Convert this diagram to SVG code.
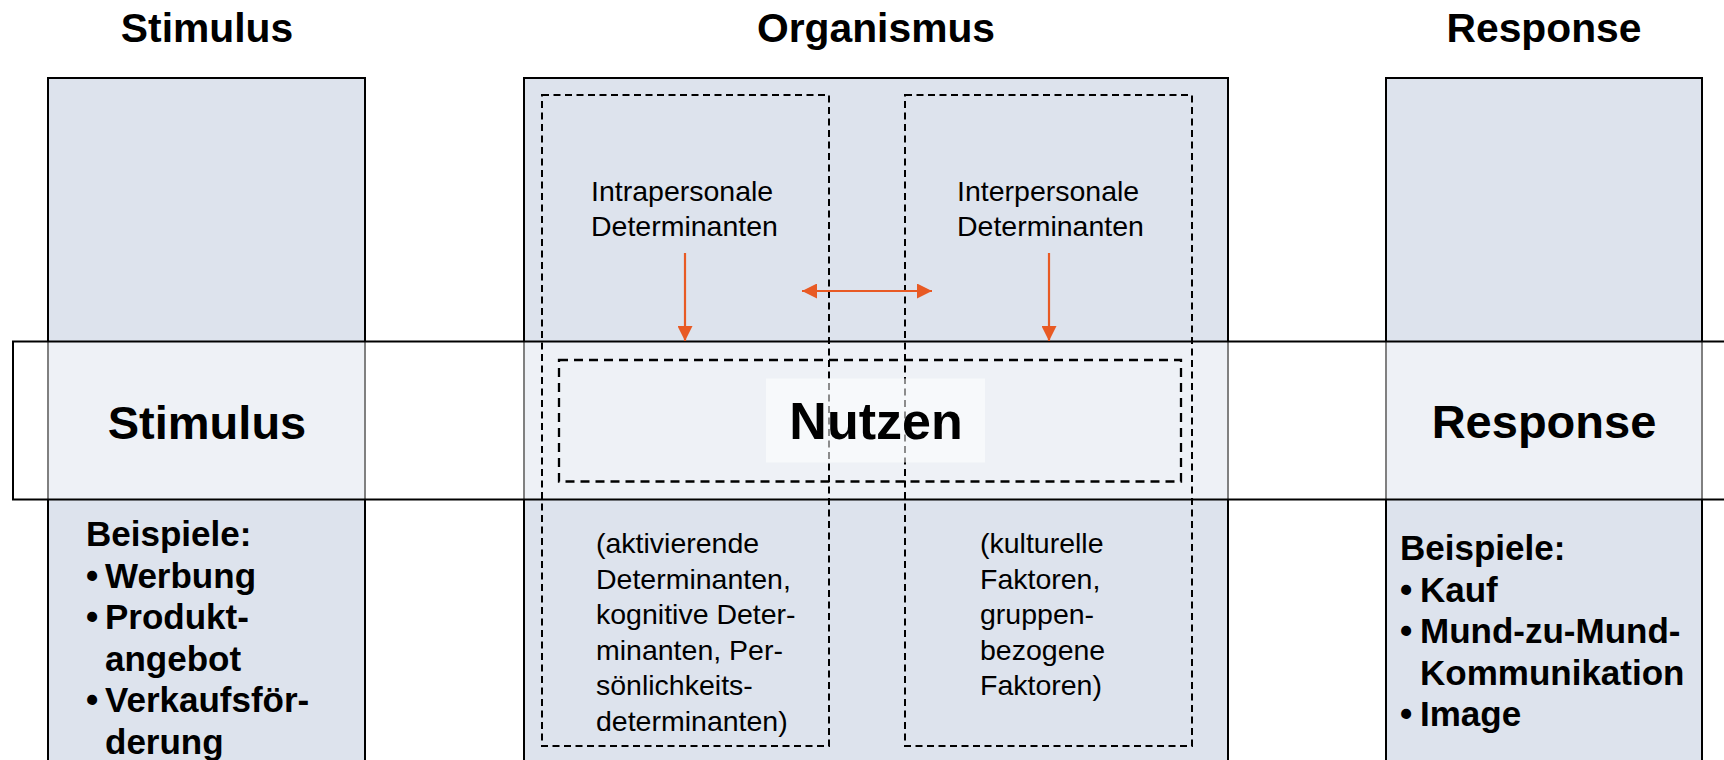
<svg xmlns="http://www.w3.org/2000/svg" width="1724" height="760" viewBox="0 0 1724 760">
  <style>
    .col { fill: #dde3ed; stroke: #000; stroke-width: 2; }
    .band { fill: #ffffff; fill-opacity: 0.5; stroke: #000; stroke-width: 2; }
    .dash { fill: none; stroke: #000; stroke-width: 2; stroke-dasharray: 7 4.5; }
    .dash2 { fill: none; stroke: #000; stroke-width: 2.3; stroke-dasharray: 9 6; }
    .title { font-family: "Liberation Sans", Arial, sans-serif; font-weight: bold; font-size: 40.8px; fill: #000; text-anchor: middle; }
    .big { font-family: "Liberation Sans", Arial, sans-serif; font-weight: bold; font-size: 47px; fill: #000; text-anchor: middle; }
    .list { font-family: "Liberation Sans", Arial, sans-serif; font-weight: bold; font-size: 35px; fill: #000; }
    .small { font-family: "Liberation Sans", Arial, sans-serif; font-size: 28.5px; fill: #000; }
    .arrow { stroke: #e85a24; stroke-width: 2.2; fill: none; }
  </style>
  <defs>
    <marker id="head" viewBox="0 0 15 15" refX="15" refY="7.5" markerWidth="15" markerHeight="15" markerUnits="userSpaceOnUse" orient="auto-start-reverse">
      <path d="M0,0 L15,7.5 L0,15 Z" fill="#e85a24"/>
    </marker>
  </defs>

  <!-- column titles -->
  <g id="titles">
    <text class="title" x="207" y="42">Stimulus</text>
    <text class="title" x="876" y="42">Organismus</text>
    <text class="title" x="1544" y="42">Response</text>
  </g>

  <!-- three columns -->
  <g id="stimulus-column">
    <rect class="col" x="48" y="78" width="317" height="700"/>
  </g>
  <g id="organismus-column">
    <rect class="col" x="524" y="78" width="704" height="700"/>
  </g>
  <g id="response-column">
    <rect class="col" x="1386" y="78" width="316" height="700"/>
  </g>

  <!-- translucent cross band -->
  <g id="band">
    <rect class="band" x="13" y="341.5" width="1730" height="158"/>
  </g>

  <!-- determinant groups -->
  <g id="intrapersonal">
    <rect class="dash" x="542" y="95" width="287" height="651"/>
    <text class="small" x="591" y="201">Intrapersonale</text>
    <text class="small" x="591" y="236">Determinanten</text>
    <text class="small" x="596" y="553">(aktivierende</text>
    <text class="small" x="596" y="588.6">Determinanten,</text>
    <text class="small" x="596" y="624.2">kognitive Deter-</text>
    <text class="small" x="596" y="659.8">minanten, Per-</text>
    <text class="small" x="596" y="695.4">sönlichkeits-</text>
    <text class="small" x="596" y="731">determinanten)</text>
  </g>
  <g id="interpersonal">
    <rect class="dash" x="905" y="95" width="287" height="651"/>
    <text class="small" x="957" y="201">Interpersonale</text>
    <text class="small" x="957" y="236">Determinanten</text>
    <text class="small" x="980" y="553">(kulturelle</text>
    <text class="small" x="980" y="588.6">Faktoren,</text>
    <text class="small" x="980" y="624.2">gruppen-</text>
    <text class="small" x="980" y="659.8">bezogene</text>
    <text class="small" x="980" y="695.4">Faktoren)</text>
  </g>

  <!-- central benefit -->
  <g id="nutzen">
    <rect class="dash2" x="559" y="360" width="622" height="121.5"/>
    <rect x="766" y="378.5" width="219" height="84" fill="#ffffff" fill-opacity="0.55"/>
    <text class="big" x="876" y="439" style="font-size:52px">Nutzen</text>
  </g>

  <g id="stimulus-label">
    <text class="big" x="207" y="439">Stimulus</text>
  </g>
  <g id="response-label">
    <text class="big" x="1544" y="438">Response</text>
  </g>

  <!-- examples -->
  <g id="stimulus-examples">
    <text class="list" x="86" y="546">Beispiele:</text>
    <text class="list" x="86" y="587.5">•</text><text class="list" x="105" y="587.5">Werbung</text>
    <text class="list" x="86" y="629">•</text><text class="list" x="105" y="629">Produkt-</text>
    <text class="list" x="105" y="670.5">angebot</text>
    <text class="list" x="86" y="712">•</text><text class="list" x="105" y="712">Verkaufsför-</text>
    <text class="list" x="105" y="753.5">derung</text>
  </g>
  <g id="response-examples">
    <text class="list" x="1400" y="560">Beispiele:</text>
    <text class="list" x="1400" y="601.5">•</text><text class="list" x="1420" y="601.5">Kauf</text>
    <text class="list" x="1400" y="643">•</text><text class="list" x="1420" y="643">Mund-zu-Mund-</text>
    <text class="list" x="1420" y="684.5">Kommunikation</text>
    <text class="list" x="1400" y="726">•</text><text class="list" x="1420" y="726">Image</text>
  </g>

  <!-- connectors -->
  <g id="connectors">
    <line class="arrow" x1="685" y1="253" x2="685" y2="341" marker-end="url(#head)"/>
    <line class="arrow" x1="1049" y1="253" x2="1049" y2="341" marker-end="url(#head)"/>
    <line class="arrow" x1="802" y1="291" x2="932" y2="291" marker-start="url(#head)" marker-end="url(#head)"/>
  </g>
</svg>
